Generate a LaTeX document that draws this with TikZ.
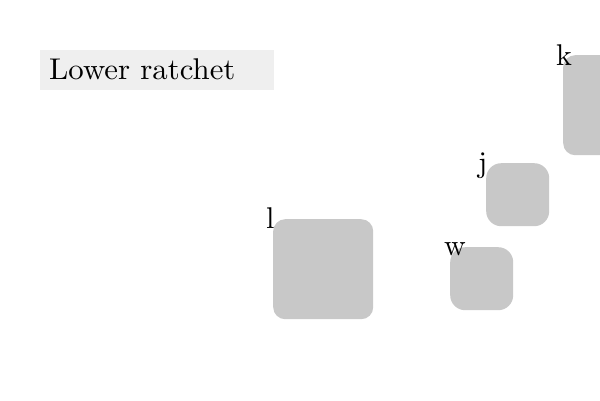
\documentclass[tikz,border=0pt]{standalone}
\usepackage{graphicx}
\newcommand{\bigtxt}[1]{\scalebox{3}{\fontsize{10}{12}\selectfont #1}}
\newcommand{\titletxt}[1]{\scalebox{3.08}[3]{\fontsize{10}{12}\selectfont #1}}
\begin{document}
\begin{tikzpicture}[x=1pt,y=-1pt,
  blk/.style={draw=none,fill=blockgray,rectangle,inner sep=0pt,anchor=north west},
  lbl/.style={inner sep=0pt,anchor=base west},
  ]
\definecolor{blockgray}{HTML}{C8C8C8}
\definecolor{titlegray}{HTML}{EFEFEF}
\clip (0,0) rectangle (600,400);
\fill[white] (0,0) rectangle (600,400);
% title
\node[fill=titlegray,inner sep=0pt,minimum width=234pt,minimum height=40pt,anchor=north west] (titlebox) at (40,50) {};
\node[lbl] (title) at (49,79) {\titletxt{Lower ratchet}};
% blocks
\node[blk,minimum width=100pt,minimum height=100pt,rounded corners=12pt] (k) at (563,55) {};
\node[blk,minimum width=63pt,minimum height=63pt,rounded corners=15pt] (j) at (486,163) {};
\node[blk,minimum width=63pt,minimum height=63pt,rounded corners=15pt] (w) at (450,247) {};
\node[blk,minimum width=100pt,minimum height=100pt,rounded corners=12pt] (l) at (273,219) {};
% labels
\node[lbl] (klabel) at (556,65) {\bigtxt{k}};
\node[lbl] (jlabel) at (478,172) {\bigtxt{j}};
\node[lbl] (wlabel) at (444,255) {\bigtxt{w}};
\node[lbl] (llabel) at (266,228) {\bigtxt{l}};
\end{tikzpicture}
\end{document}
